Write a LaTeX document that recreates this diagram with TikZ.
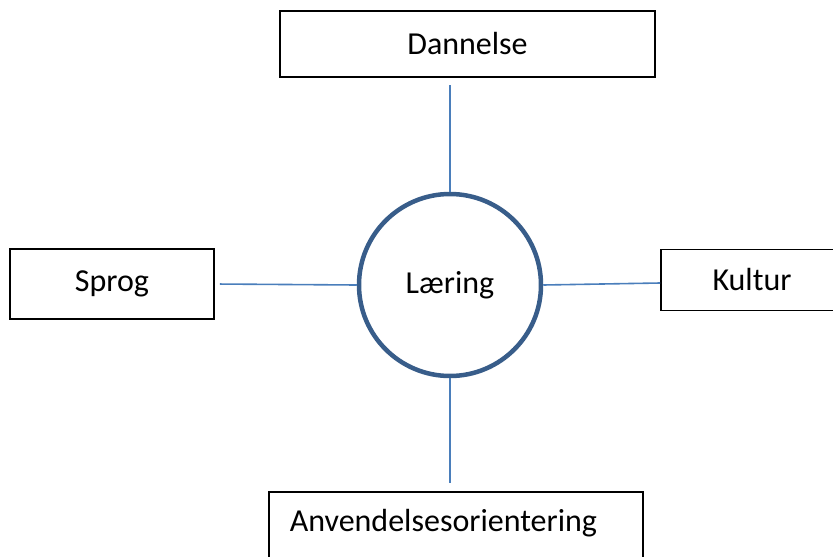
\documentclass[tikz,border=0pt]{standalone}
\usepackage{fontspec}
\setmainfont{Carlito}
\usepackage{xcolor}
\definecolor{ringblue}{RGB}{56,93,138}
\definecolor{lineblue}{RGB}{74,126,187}

\begin{document}
\begin{tikzpicture}[x=1pt, y=-1pt, font=\fontsize{32}{38}\selectfont,
    box/.style={rectangle, draw=black, line width=1.6pt, inner sep=0pt},
    link/.style={draw=lineblue, line width=1.6pt}]
    \useasboundingbox (0,0) rectangle (833,557);

                % Nodes
                \node (laer) at (450,285) [circle, draw=ringblue, line width=4.5pt, minimum size=182pt] {Læring};
                \node (dan) at (467.5,44) [box, minimum width=375pt, minimum height=66pt] {Dannelse};
                \node (spr) at (112,284) [box, minimum width=204pt, minimum height=70pt] {Sprog};
                \node (kul) at (752,280) [box, minimum width=182pt, minimum height=61pt] {Kultur};
                \node (anv) at (268,491) [box, anchor=north west, minimum width=374pt, text width=332pt,
                    align=left, inner xsep=21pt, inner ysep=8pt, text height=32pt, text depth=31pt] {Anvendelsesorientering};

                % Lines
                \draw[link, shorten >=7pt] (laer.north) -- (laer.north |- dan.south);
                \draw[link, shorten <=5pt] (spr.east) -- (laer.west);
                \draw[link] (laer.east) -- ([yshift=-3pt]kul.west);
                \draw[link, shorten >=8pt] (laer.south) -- (laer.south |- anv.north);

            \end{tikzpicture}
\end{document}
